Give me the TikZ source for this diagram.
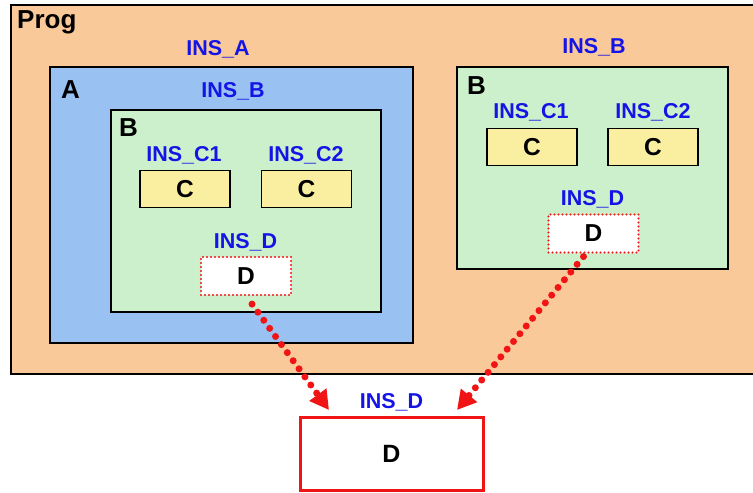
\documentclass[tikz,border=0pt]{standalone}
\usepackage{fontspec}
\setmainfont{Liberation Sans}
\usetikzlibrary{arrows.meta}
\definecolor{peach}{RGB}{249,201,153}
\definecolor{skyb}{RGB}{153,194,242}
\definecolor{mint}{RGB}{204,240,204}
\definecolor{lemon}{RGB}{250,238,160}
\definecolor{insblue}{RGB}{20,20,230}
\definecolor{dred}{RGB}{240,20,20}
\tikzset{
  cont/.style={draw=black, line width=1.6pt, inner sep=0pt},
  cbox/.style={draw=black, line width=1.6pt, fill=lemon, minimum width=90pt, minimum height=37pt, inner sep=0pt, font=\fontsize{24.5}{28}\selectfont\bfseries},
  dbox/.style={draw=dred, line width=2.2pt, line cap=round, dash pattern=on 0pt off 4pt, fill=white, minimum width=90pt, minimum height=38pt, inner sep=0pt, font=\fontsize{24.5}{28}\selectfont\bfseries},
  ins/.style={text=insblue, font=\fontsize{21.5}{24}\selectfont\bfseries, inner sep=0pt},
  ttl/.style={font=\fontsize{26}{30}\selectfont\bfseries, inner sep=0pt, anchor=west},
  darrow/.style={draw=dred, line width=7pt, line cap=round, dash pattern=on 0pt off 10pt,
     -{Triangle[length=19pt,width=20pt,fill=dred]}},
}
\begin{document}
\begin{tikzpicture}[x=1pt,y=-1pt]
\useasboundingbox (0,0) rectangle (753,493);
% containers
\node[cont, fill=peach, minimum width=747pt, minimum height=369pt] (prog) at (384.5,189.5) {};
\node[cont, fill=skyb, minimum width=363pt, minimum height=276pt] (a) at (231.5,205) {};
\node[cont, fill=mint, minimum width=270pt, minimum height=202pt] (bl) at (246,211) {};
\node[cont, fill=mint, minimum width=271pt, minimum height=202pt] (br) at (592.5,168) {};
% titles
\node[ttl] (progt) at (17,22) {Prog};
\node[ttl] (at) at (61,90) {A};
\node[ttl] (blt) at (119,128) {B};
\node[ttl] (brt) at (467,86) {B};
% instance labels
\node[ins] (insa) at (218,49) {INS\_A};
\node[ins] (insbl) at (233,91) {INS\_B};
\node[ins] (insbr) at (594,47) {INS\_B};
\node[ins] (insc1l) at (184,155) {INS\_C1};
\node[ins] (insc2l) at (306,155) {INS\_C2};
\node[ins] (insdl) at (245.5,242) {INS\_D};
\node[ins] (insc1r) at (531,112.5) {INS\_C1};
\node[ins] (insc2r) at (653,112.5) {INS\_C2};
\node[ins] (insdr) at (592.5,199.5) {INS\_D};
\node[ins] (insdb) at (391.5,402) {INS\_D};
% inner boxes
\node[cbox] (c1l) at (185,189) {C};
\node[cbox] (c2l) at (306.5,189) {C};
\node[dbox] (dl) at (246,276) {D};
\node[cbox] (c1r) at (532,147) {C};
\node[cbox] (c2r) at (653,147) {C};
\node[dbox] (dr) at (593.5,233.5) {D};
\node[draw=dred, line width=3pt, fill=white, minimum width=183pt, minimum height=73pt, inner sep=0pt,
      font=\fontsize{25}{29}\selectfont\bfseries] (db) at (391.5,453.5) {D};
% connectors
\coordinate (tipl) at (329,410);
\coordinate (tipr) at (457,410);
\draw[darrow] ([xshift=6pt,yshift=-8pt]dl.south) -- (tipl);
\draw[darrow] ([xshift=-10pt,yshift=-3pt]dr.south) -- (tipr);
\end{tikzpicture}
\end{document}
